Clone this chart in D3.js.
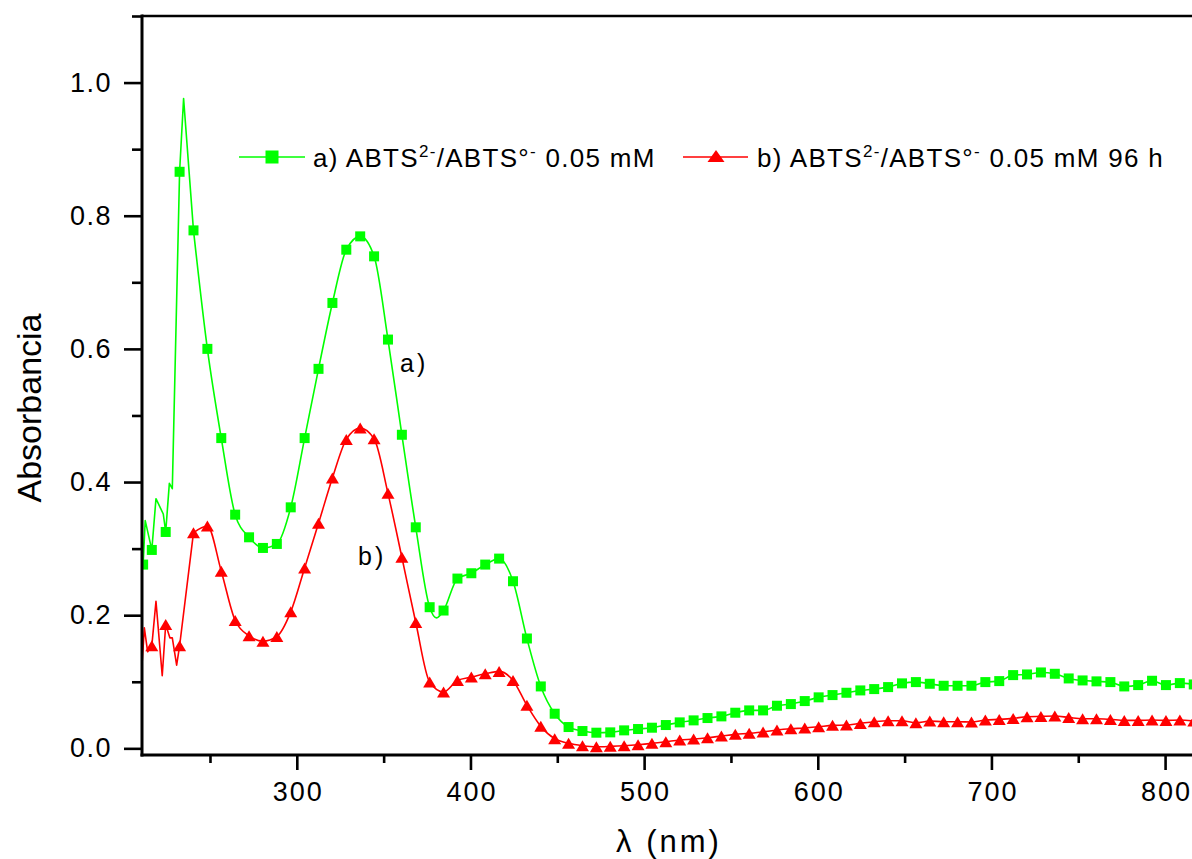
<!DOCTYPE html>
<html><head><meta charset="utf-8">
<script src="https://cdn.jsdelivr.net/npm/d3@7"></script>
<style>
body{margin:0;background:#fff}
svg{display:block;background:#fff}
text{font-family:"Liberation Sans",Arial,Helvetica,sans-serif;fill:#000}
</style>
</head><body>
<svg id="chart" width="1192" height="859"></svg>
<script>
// ---------- data ----------
const wavelengths = [216.5,224.5,232.5,240.5,248.5,256.5,264.5,272.5,280.5,288.5,296.5,304.5,312.5,320.5,328.5,336.5,344.5,352.5,360.5,368.5,376.5,384.5,392.5,400.5,408.5,416.5,424.5,432.5,440.5,448.5,456.5,464.5,472.5,480.5,488.5,496.5,504.5,512.5,520.5,528.5,536.5,544.5,552.5,560.5,568.5,576.5,584.5,592.5,600.5,608.5,616.5,624.5,632.5,640.5,648.5,656.5,664.5,672.5,680.5,688.5,696.5,704.5,712.5,720.5,728.5,736.5,744.5,752.5,760.5,768.5,776.5,784.5,792.5,800.5,808.5,816.5];
const seriesA = [0.298,0.325,0.866,0.778,0.600,0.466,0.351,0.317,0.301,0.307,0.362,0.466,0.570,0.669,0.749,0.769,0.739,0.614,0.471,0.332,0.212,0.207,0.255,0.263,0.276,0.285,0.251,0.165,0.093,0.052,0.032,0.026,0.0235,0.024,0.027,0.029,0.031,0.035,0.039,0.042,0.0455,0.048,0.0535,0.057,0.057,0.064,0.0665,0.071,0.0766,0.080,0.0835,0.087,0.089,0.092,0.0976,0.0995,0.097,0.094,0.094,0.094,0.0995,0.101,0.110,0.111,0.114,0.112,0.105,0.102,0.1006,0.0995,0.093,0.095,0.1015,0.095,0.098,0.096];
const seriesB = [0.154,0.186,0.154,0.324,0.334,0.266,0.192,0.169,0.161,0.168,0.205,0.271,0.338,0.406,0.464,0.481,0.465,0.383,0.287,0.189,0.0996,0.0846,0.102,0.107,0.112,0.1156,0.102,0.0646,0.033,0.0145,0.0075,0.004,0.0024,0.003,0.004,0.0055,0.0075,0.0099,0.0125,0.014,0.016,0.0185,0.021,0.0225,0.0245,0.0275,0.0294,0.0305,0.0324,0.0345,0.035,0.0375,0.040,0.0414,0.0414,0.0384,0.0409,0.040,0.040,0.0395,0.0425,0.0435,0.045,0.0475,0.048,0.0485,0.0465,0.0445,0.0445,0.0435,0.042,0.042,0.0425,0.042,0.0425,0.041];
// first (edge) marker of series a)
const firstMarkerAWl = [211.5];
const firstMarkerA = [0.276];
// line-only points (noisy start, sharp peak, dip)
const extraAWl = [210.9,212.7,218.9,223.1,226.6,228.3,234.8,380.5];
const extraA   = [0.330,0.342,0.375,0.352,0.398,0.390,0.976,0.196];
const extraBWl = [210.9,212.2,214.1,218.9,222.5,226.9,228.3,230.8];
const extraB   = [0.127,0.181,0.145,0.221,0.109,0.166,0.166,0.125];

const xMajorTicks = [300,400,500,600,700,800];
const xMinorTicks = [250,350,450,550,650,750];
const yMajorTicks = [0.0,0.2,0.4,0.6,0.8,1.0];
const yMinorTicks = [0.1,0.3,0.5,0.7,0.9,1.1];

const labelA = "a) ABTS";
const labelB = "b) ABTS";
const xTitle = "λ (nm)";
const yTitle = "Absorbancia";

// ---------- layout ----------
const svg = d3.select("#chart");
const L = 142, R = 1192, T = 16, B = 755;
const x = d3.scaleLinear().domain([210.85, 815.5]).range([L, R]);
const y = d3.scaleLinear().domain([-0.01, 1.1]).range([B, T]);
const GREEN = "#00ff00", RED = "#ff0000";
const NOISE_END = 240.5; // noisy start drawn as straight segments

svg.append("defs").append("clipPath").attr("id","clip")
  .append("rect").attr("x",L).attr("y",T).attr("width",R-L+20).attr("height",B-T);

function pts(wl, v){ return wl.map((w,i)=>({w, v:v[i]})); }
const lineA = pts(wavelengths, seriesA).concat(pts(firstMarkerAWl, firstMarkerA), pts(extraAWl, extraA)).sort((a,b)=>a.w-b.w);
const lineB = pts(wavelengths, seriesB).concat(pts(extraBWl, extraB)).sort((a,b)=>a.w-b.w);

const lineLin = d3.line().x(d=>x(d.w)).y(d=>y(d.v)).curve(d3.curveLinear);
const lineSm = d3.line().x(d=>x(d.w)).y(d=>y(d.v)).curve(d3.curveMonotoneX);
const plot = svg.append("g").attr("clip-path","url(#clip)");

function drawSeries(data, color){
  plot.append("path").datum(data.filter(d=>d.w<=NOISE_END)).attr("d", lineLin)
    .attr("fill","none").attr("stroke",color).attr("stroke-width",1.6).attr("stroke-linejoin","round");
  plot.append("path").datum(data.filter(d=>d.w>=NOISE_END)).attr("d", lineSm)
    .attr("fill","none").attr("stroke",color).attr("stroke-width",1.6);
}
drawSeries(lineA, GREEN);
drawSeries(lineB, RED);

const sq = 10;
plot.selectAll("rect.ma").data(pts(firstMarkerAWl, firstMarkerA).concat(pts(wavelengths, seriesA))).enter()
  .append("rect").attr("class","ma")
  .attr("x", d=>x(d.w)-sq/2).attr("y", d=>y(d.v)-sq/2)
  .attr("width",sq).attr("height",sq).attr("fill",GREEN);

function tri(cx, cy, w, h){ return `M${cx},${cy-h/2}L${cx+w/2},${cy+h/2}L${cx-w/2},${cy+h/2}Z`; }
plot.selectAll("path.mb").data(pts(wavelengths, seriesB)).enter()
  .append("path").attr("class","mb")
  .attr("d", d=>tri(x(d.w), y(d.v), 13, 11)).attr("fill",RED);

// ---------- axes ----------
const axG = svg.append("g");
const yAx = axG.append("g").attr("transform",`translate(${L},0)`)
  .call(d3.axisLeft(y).tickValues(yMajorTicks).tickSize(18).tickSizeOuter(0).tickPadding(12).tickFormat(d3.format(".1f")));
yAx.select(".domain").remove();
yAx.selectAll("line").attr("stroke","#000").attr("stroke-width",2.6);
yAx.selectAll("text").attr("font-size",27).attr("letter-spacing","1.5px")
  .attr("font-family","Liberation Sans, Arial, sans-serif").attr("fill","#000");
const yAxm = axG.append("g").attr("transform",`translate(${L},0)`)
  .call(d3.axisLeft(y).tickValues(yMinorTicks).tickSize(10).tickSizeOuter(0).tickFormat(""));
yAxm.select(".domain").remove();
yAxm.selectAll("line").attr("stroke","#000").attr("stroke-width",2.6);

const xAx = axG.append("g").attr("transform",`translate(0,${B})`)
  .call(d3.axisBottom(x).tickValues(xMajorTicks).tickSize(15).tickSizeOuter(0).tickPadding(12).tickFormat(d3.format("d")));
xAx.select(".domain").remove();
xAx.selectAll("line").attr("stroke","#000").attr("stroke-width",2.6);
xAx.selectAll("text").attr("font-size",27).attr("letter-spacing","2px").attr("dx","1px")
  .attr("font-family","Liberation Sans, Arial, sans-serif").attr("fill","#000");
const xAxm = axG.append("g").attr("transform",`translate(0,${B})`)
  .call(d3.axisBottom(x).tickValues(xMinorTicks).tickSize(8).tickSizeOuter(0).tickFormat(""));
xAxm.select(".domain").remove();
xAxm.selectAll("line").attr("stroke","#000").attr("stroke-width",2.6);

axG.append("line").attr("x1",L).attr("x2",L).attr("y1",T-1.5).attr("y2",B+1.5).attr("stroke","#000").attr("stroke-width",3);
axG.append("line").attr("x1",L-1.5).attr("x2",R+5).attr("y1",B).attr("y2",B).attr("stroke","#000").attr("stroke-width",3);
axG.append("line").attr("x1",L).attr("x2",R+5).attr("y1",T).attr("y2",T).attr("stroke","#000").attr("stroke-width",2.6);

// titles
svg.append("text").attr("transform","translate(41,408) rotate(-90)")
  .attr("text-anchor","middle").attr("font-size",34).text(yTitle);
svg.append("text").attr("x",669).attr("y",852).attr("text-anchor","middle")
  .attr("font-size",31).attr("letter-spacing","3px").text(xTitle);

// ---------- legend ----------
const leg = svg.append("g");
function legendText(x0, yb, prefix, suffix){
  const t = leg.append("text").attr("x",x0).attr("y",yb).attr("font-size",26).attr("letter-spacing","1.3px");
  t.append("tspan").text(prefix);
  t.append("tspan").attr("dy",-10).attr("font-size",17).text("2-");
  t.append("tspan").attr("dy",10).text("/ABTS°");
  t.append("tspan").attr("dy",-10).attr("font-size",17).text("-");
  t.append("tspan").attr("dy",10).text(suffix);
}
leg.append("line").attr("x1",239).attr("x2",305).attr("y1",157).attr("y2",157).attr("stroke",GREEN).attr("stroke-width",1.6);
leg.append("rect").attr("x",272-6.5).attr("y",157-6.5).attr("width",13).attr("height",13).attr("fill",GREEN);
legendText(313, 167, labelA, " 0.05 mM");
leg.append("line").attr("x1",683).attr("x2",748).attr("y1",157).attr("y2",157).attr("stroke",RED).attr("stroke-width",1.6);
leg.append("path").attr("d",tri(716,156,17,12)).attr("fill",RED);
legendText(757, 167, labelB, " 0.05 mM 96 h");

// curve labels
svg.append("text").attr("x",400).attr("y",372).attr("font-size",25).attr("letter-spacing","3px").text("a)");
svg.append("text").attr("x",358).attr("y",565).attr("font-size",25).attr("letter-spacing","3px").text("b)");
</script>
</body></html>
